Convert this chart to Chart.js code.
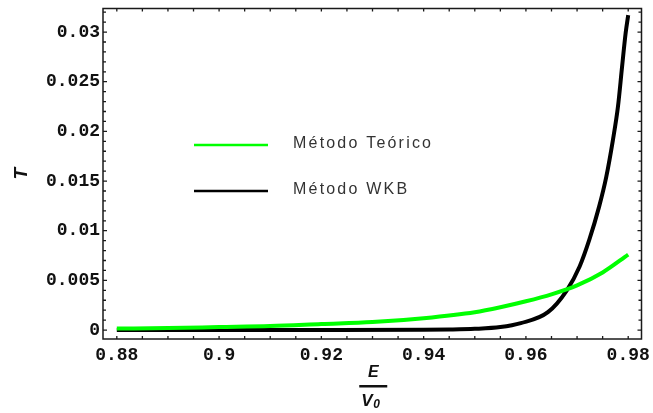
<!DOCTYPE html>
<html>
<head>
<meta charset="utf-8">
<script src="https://cdn.jsdelivr.net/npm/chart.js@4.4.1/dist/chart.umd.min.js"></script>
<style>
  body { margin: 0; background: #fff; }
  #wrap { width: 653px; height: 413px; }
</style>
</head>
<body>
<div id="wrap"><canvas id="myChart" width="653" height="413"></canvas></div>
<script>
const myChartObject = document.getElementById('myChart');

// Método Teórico (green)
const teoricoE = [0.88, 0.89, 0.90, 0.91, 0.92, 0.93, 0.94, 0.95, 0.955, 0.96, 0.965, 0.97, 0.975, 0.98];
const teoricoT = [0.00015, 0.0002, 0.0003, 0.0004, 0.0006, 0.0008, 0.0012, 0.0018, 0.0023, 0.0029, 0.0036, 0.0045, 0.0058, 0.0076];

// Método WKB (black)
const wkbE = [0.88, 0.90, 0.92, 0.94, 0.945, 0.95, 0.955, 0.959, 0.9643, 0.968, 0.9705, 0.9724, 0.9743, 0.9757, 0.977, 0.978, 0.9788, 0.9795, 0.98];
const wkbT = [0, 0, 0, 0.00002, 0.00005, 0.00012, 0.0003, 0.0007, 0.0018, 0.004, 0.0064, 0.0091, 0.0124, 0.0154, 0.0191, 0.0225, 0.0265, 0.0299, 0.0317];

const xTickValues = [0.88, 0.9, 0.92, 0.94, 0.96, 0.98];
const xTickLabels = ['0.88', '0.9', '0.92', '0.94', '0.96', '0.98'];
const yTickValues = [0, 0.005, 0.01, 0.015, 0.02, 0.025, 0.03];
const yTickLabels = ['0', '0.005', '0.01', '0.015', '0.02', '0.025', '0.03'];

const seriesLabels = ['Método Teórico', 'Método WKB'];

const toPoints = (xs, ys) => xs.map((x, i) => ({x: x, y: ys[i]}));

// frame with inward ticks on all four sides (Mathematica style)
const framePlugin = {
  id: 'frame',
  afterDatasetsDraw(chart) {
    const ctx = chart.ctx;
    const a = chart.chartArea;
    const xs = chart.scales.x, ys = chart.scales.y;
    ctx.save();
    ctx.strokeStyle = '#1a1a1a';
    ctx.lineWidth = 1.5;
    ctx.strokeRect(a.left, a.top, a.right - a.left, a.bottom - a.top);
    ctx.lineWidth = 1.3;
    ctx.beginPath();
    for (let v = 0.88; v <= 0.9801; v += 0.005) {
      const px = xs.getPixelForValue(v);
      ctx.moveTo(px, a.bottom); ctx.lineTo(px, a.bottom - 3);
      ctx.moveTo(px, a.top); ctx.lineTo(px, a.top + 3);
    }
    for (let v = 0; v <= 0.0321; v += 0.001) {
      const py = ys.getPixelForValue(v);
      const len = (Math.round(v * 1000) % 5 === 0) ? 4 : 3;
      ctx.moveTo(a.left, py); ctx.lineTo(a.left + len, py);
      ctx.moveTo(a.right, py); ctx.lineTo(a.right - len, py);
    }
    ctx.stroke();

    // x axis title: E / V0
    const cx = (a.left + a.right) / 2;
    ctx.fillStyle = '#111';
    ctx.textAlign = 'center';
    ctx.textBaseline = 'alphabetic';
    ctx.font = 'italic bold 16px "Liberation Sans", Arial';
    ctx.fillText('E', cx + 1, 377);
    ctx.fillRect(cx - 13, 385, 28, 2.5);
    ctx.textAlign = 'left';
    ctx.font = 'italic bold 17px "Liberation Sans", Arial';
    ctx.fillText('V', cx - 11, 406);
    ctx.font = 'italic bold 12px "Liberation Sans", Arial';
    ctx.fillText('0', cx + 1, 408);

    // legend inside the plot
    ctx.font = '16px "Liberation Sans", Arial';
    ctx.letterSpacing = '2.2px';
    ctx.textBaseline = 'middle';
    const rows = [145, 191];
    chart.data.datasets.forEach((ds, i) => {
      ctx.strokeStyle = ds.borderColor;
      ctx.lineWidth = 2.5;
      ctx.beginPath();
      ctx.moveTo(194, rows[i]); ctx.lineTo(268, rows[i]);
      ctx.stroke();
      ctx.fillStyle = '#333';
      ctx.fillText(ds.label, 293, rows[i] - 1);
    });
    ctx.restore();
  }
};

const cfg = {
  type: 'line',
  data: {
    datasets: [{
      label: seriesLabels[0],
      borderColor: '#00ff00',
      backgroundColor: '#00ff00',
      borderWidth: 4,
      pointRadius: 0,
      cubicInterpolationMode: 'monotone',
      data: toPoints(teoricoE, teoricoT)
    }, {
      label: seriesLabels[1],
      borderColor: '#000000',
      backgroundColor: '#000000',
      borderWidth: 4,
      pointRadius: 0,
      cubicInterpolationMode: 'monotone',
      data: toPoints(wkbE, wkbT)
    }]
  },
  options: {
    responsive: false,
    animation: false,
    layout: { padding: { top: 8.5, right: 11.5, left: 0, bottom: 0 } },
    plugins: { legend: { display: false }, tooltip: { enabled: false } },
    scales: {
      x: {
        type: 'linear',
        min: 0.8773,
        max: 0.9826,
        grid: { display: false, drawTicks: false },
        border: { display: false },
        afterBuildTicks: (scale) => { scale.ticks = xTickValues.map(v => ({value: v})); },
        afterFit: (scale) => { scale.height = 74; scale.paddingLeft = 0; scale.paddingRight = 0; },
        ticks: {
          autoSkip: false,
          maxRotation: 0,
          padding: 6,
          color: '#111',
          font: { family: '"Liberation Mono", "Courier New", monospace', size: 18, weight: 'bold' },
          callback: (v, i) => xTickLabels[i]
        }
      },
      y: {
        type: 'linear',
        min: -0.0009,
        max: 0.03237,
        grid: { display: false, drawTicks: false },
        border: { display: false },
        afterBuildTicks: (scale) => { scale.ticks = yTickValues.map(v => ({value: v})); },
        afterFit: (scale) => { scale.width = 103; scale.paddingTop = 0; scale.paddingBottom = 0; },
        title: {
          display: true,
          text: 'T',
          color: '#111',
          padding: { top: 10, bottom: 0 },
          font: { family: '"Liberation Sans", Arial', size: 19, style: 'italic', weight: 'bold' }
        },
        ticks: {
          autoSkip: false,
          padding: 3,
          color: '#111',
          font: { family: '"Liberation Mono", "Courier New", monospace', size: 18, weight: 'bold' },
          callback: (v, i) => yTickLabels[i]
        }
      }
    }
  },
  plugins: [framePlugin]
};

let chart = new Chart(myChartObject, cfg);
</script>
</body>
</html>
